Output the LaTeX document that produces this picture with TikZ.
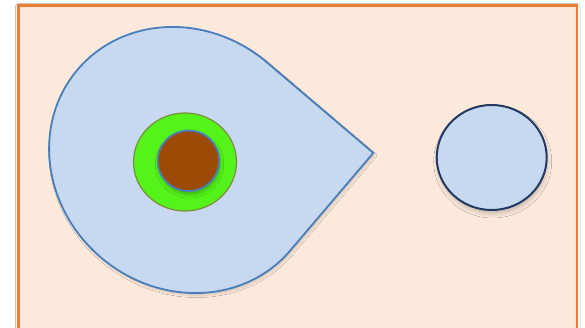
\documentclass[tikz,border=0pt]{standalone}
\usetikzlibrary{shadows.blur,shapes.geometric}
\definecolor{bgfill}{RGB}{252,233,219}
\definecolor{bgline}{RGB}{237,125,49}
\definecolor{lblue}{RGB}{198,217,240}
\definecolor{mblue}{RGB}{74,126,187}
\definecolor{navy}{RGB}{35,58,98}
\definecolor{lgreen}{RGB}{84,244,26}
\definecolor{olive}{RGB}{125,140,60}
\definecolor{brown}{RGB}{155,75,5}
\tikzset{
  panel/.style={fill=bgfill,draw=bgline,line width=2.5pt,
    blur shadow={shadow xshift=0pt,shadow yshift=-1pt,shadow blur radius=3pt,shadow opacity=20}},
  drop/.style={fill=lblue,draw=mblue,line width=1.8pt,
    blur shadow={shadow xshift=1.5pt,shadow yshift=-2.5pt,shadow blur radius=2pt,shadow opacity=15}},
  ring/.style={ellipse,fill=lgreen,draw=olive,line width=1.2pt,inner sep=0pt},
  core/.style={ellipse,fill=brown,draw=mblue,line width=1.8pt,inner sep=0pt,
    blur shadow={shadow xshift=1pt,shadow yshift=-3.5pt,shadow blur radius=3.5pt,shadow opacity=25}},
  disc/.style={ellipse,fill=lblue,draw=navy,line width=2pt,inner sep=0pt,
    blur shadow={shadow xshift=1pt,shadow yshift=-4pt,shadow blur radius=4pt,shadow opacity=20}},
}
\begin{document}
\begin{tikzpicture}[x=1pt,y=1pt]
\useasboundingbox (0,0) rectangle (585,-328);
\fill[white] (0,0) rectangle (585,-328);
% background panel
\path[panel] (18.5,-5.5) rectangle (577,-336);
% teardrop
\begin{scope}[shift={(184,-160)},rotate=-40.4]
\path[drop] (-139.6,0) arc[start angle=180,end angle=90,x radius=139.6,y radius=128.1]
  coordinate (tdtop) -- (139.6,128.1) coordinate (tip) -- (139.6,0)
  arc[start angle=0,end angle=-180,x radius=139.6,y radius=128.1] -- cycle;
\end{scope}
% rings
\node[ring,minimum width=103pt,minimum height=98pt] (green) at (185,-162) {};
\node[core,minimum width=61.5pt,minimum height=60.5pt] (brown) at (188.5,-160.8) {};
% right disc
\node[disc,minimum width=110pt,minimum height=105pt] (disc) at (491.7,-157.5) {};
\end{tikzpicture}
\end{document}
